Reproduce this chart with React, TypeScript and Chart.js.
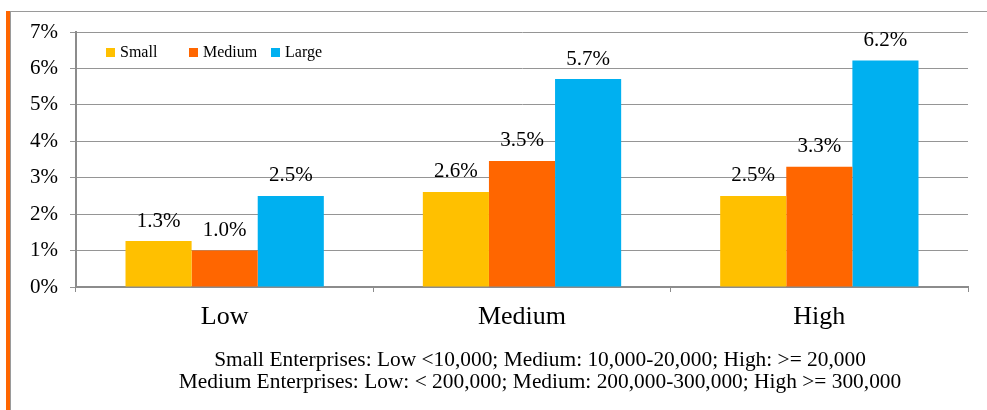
import React, { useEffect, useRef } from "react";
import { Chart, registerables } from "chart.js";

Chart.register(...registerables);

const categories = ["Low", "Medium", "High"];
const seriesNames = ["Small", "Medium", "Large"];
const smallValues = [1.26, 2.61, 2.5];
const mediumValues = [1.0, 3.46, 3.3];
const largeValues = [2.5, 5.71, 6.22];
const seriesColors = ["#FFC000", "#FF6600", "#00B0F0"];
const yMin = 0;
const yMax = 7;
const yStep = 1;
const footnotes = [
  "Small Enterprises: Low <10,000; Medium: 10,000-20,000; High: >= 20,000",
  "Medium Enterprises: Low: < 200,000; Medium: 200,000-300,000; High >= 300,000",
];

const SERIF = "'Liberation Serif', 'Times New Roman', serif";

const dataLabelPlugin = {
  id: "dataLabels",
  afterDatasetsDraw(chart: any) {
    const ctx = chart.ctx;
    ctx.save();
    ctx.font = `21px ${SERIF}`;
    ctx.fillStyle = "#000";
    ctx.textAlign = "center";
    ctx.textBaseline = "middle";
    chart.data.datasets.forEach((ds: any, i: number) => {
      const meta = chart.getDatasetMeta(i);
      meta.data.forEach((el: any, j: number) => {
        const v = ds.data[j] as number;
        ctx.fillText(v.toFixed(1) + "%", el.x, el.y - 20);
      });
    });
    ctx.restore();
  },
};

const legendPlugin = {
  id: "insideLegend",
  afterDraw(chart: any) {
    const ctx = chart.ctx;
    const area = chart.chartArea;
    ctx.save();
    ctx.font = `16px ${SERIF}`;
    ctx.textBaseline = "middle";
    ctx.textAlign = "left";
    chart.data.datasets.forEach((ds: any, i: number) => {
      const x = area.left + 30 + i * 82.5;
      const y = 53;
      ctx.fillStyle = ds.backgroundColor;
      ctx.fillRect(Math.round(x), y - 5, 9, 9);
      ctx.fillStyle = "#000";
      ctx.fillText(ds.label, Math.round(x) + 14, y);
    });
    ctx.restore();
  },
};

const footerPlugin = {
  id: "footnotes",
  afterDraw(chart: any) {
    const ctx = chart.ctx;
    ctx.save();
    ctx.font = `21.4px ${SERIF}`;
    ctx.fillStyle = "#000";
    ctx.textAlign = "center";
    ctx.textBaseline = "middle";
    footnotes.forEach((t, i) => {
      ctx.fillText(t, 540, 360 + i * 22.5);
    });
    ctx.restore();
  },
};

export default function App() {
  const canvasRef = useRef<HTMLCanvasElement | null>(null);

  useEffect(() => {
    document.body.style.margin = "0";
    const canvas = canvasRef.current;
    if (!canvas) return;
    const valuesList = [smallValues, mediumValues, largeValues];
    const chart = new Chart(canvas, {
      type: "bar",
      data: {
        labels: categories,
        datasets: seriesNames.map((name, i) => ({
          label: name,
          data: valuesList[i],
          backgroundColor: seriesColors[i],
          borderWidth: 0,
          categoryPercentage: 0.667,
          barPercentage: 1.0,
        })),
      },
      options: {
        animation: false,
        responsive: false,
        maintainAspectRatio: false,
        devicePixelRatio: 1,
        layout: { padding: { left: 0, top: 32, right: 19, bottom: 0 } },
        plugins: {
          legend: { display: false },
          tooltip: { enabled: false },
          title: { display: false },
        },
        scales: {
          x: {
            offset: true,
            grid: {
              display: true,
              drawOnChartArea: false,
              drawTicks: true,
              tickLength: 5,
              color: "#8c8c8c",
              offset: true,
            },
            border: { display: true, color: "#8c8c8c", width: 2 },
            ticks: {
              color: "#000",
              font: { family: SERIF, size: 26 },
              padding: 10,
            },
            afterFit(scale: any) {
              scale.height = 123;
            },
          },
          y: {
            min: yMin,
            max: yMax,
            ticks: {
              stepSize: yStep,
              color: "#000",
              font: { family: SERIF, size: 21 },
              padding: 12,
              callback: (v: any) => `${v}%`,
            },
            grid: {
              color: "#959595",
              lineWidth: 1,
              drawTicks: true,
              tickLength: 6,
            },
            border: { display: true, color: "#8c8c8c", width: 2 },
            afterFit(scale: any) {
              scale.width = 76;
            },
          },
        },
      },
      plugins: [dataLabelPlugin, legendPlugin, footerPlugin],
    });
    return () => chart.destroy();
  }, []);

  return (
    <div
      style={{
        position: "fixed",
        left: 0,
        top: 0,
        width: 987,
        height: 410,
        background: "#fff",
        overflow: "hidden",
      }}
    >
      <div style={{ position: "absolute", left: 6, top: 11, width: 4, height: 399, background: "#FF6600" }} />
      <div style={{ position: "absolute", left: 10, top: 11, width: 1, height: 399, background: "#9a9a9a" }} />
      <div style={{ position: "absolute", left: 10, top: 11, width: 977, height: 1, background: "#9a9a9a" }} />
      <canvas
        ref={canvasRef}
        width={987}
        height={410}
        style={{ position: "absolute", left: 0, top: 0, width: 987, height: 410 }}
      />
    </div>
  );
}
